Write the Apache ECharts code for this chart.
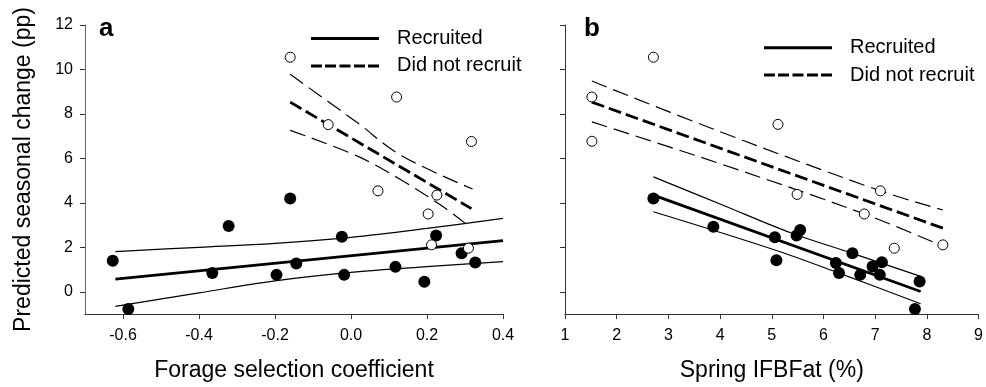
<!DOCTYPE html>
<html><head><meta charset="utf-8">
<script src="https://cdn.jsdelivr.net/npm/echarts@6/dist/echarts.min.js"></script>
<style>html,body{margin:0;padding:0;background:#fff}#c{width:986px;height:387px}</style>
</head><body><div id="c"></div>
<script>
// ---------- tick labels ----------
const yTicks = [0, 2, 4, 6, 8, 10, 12];
const aXTicks = [-0.6, -0.4, -0.2, 0.0, 0.2, 0.4];
const bXTicks = [1, 2, 3, 4, 5, 6, 7, 8, 9];

// ---------- panel a : Forage selection coefficient ----------
const aRecX = [-0.627, -0.586, -0.365, -0.322, -0.160, -0.196, -0.144, -0.024, -0.018, 0.117, 0.224, 0.291, 0.327, 0.193];
const aRecY = [1.40, -0.78, 0.84, 2.96, 4.20, 0.76, 1.27, 2.47, 0.76, 1.12, 2.53, 1.73, 1.32, 0.45];
const aNotX = [-0.160, 0.120, -0.060, 0.071, 0.317, 0.226, 0.203, 0.212, 0.309];
const aNotY = [10.55, 8.76, 7.52, 4.54, 6.76, 4.35, 3.50, 2.11, 1.96];

const aRecFitX = [-0.62, 0.40];
const aRecFitY = [0.57, 2.30];
const aRecUpX = [-0.62, -0.4, -0.2, 0.0, 0.2, 0.4];
const aRecUpY = [1.81, 2.00, 2.18, 2.45, 2.85, 3.30];
const aRecLoX = [-0.62, -0.4, -0.2, 0.0, 0.2, 0.4];
const aRecLoY = [-0.66, -0.05, 0.49, 0.87, 1.13, 1.36];

const aNotFitX = [-0.16, 0.317];
const aNotFitY = [8.53, 3.74];
const aNotUpX = [-0.16, 0.017, 0.13, 0.32];
const aNotUpY = [9.78, 7.60, 6.15, 4.62];
const aNotLoX = [-0.16, 0.017, 0.13, 0.236, 0.317];
const aNotLoY = [7.26, 6.10, 5.05, 3.90, 2.86];

// ---------- panel b : Spring IFBFat (%) ----------
const bRecX = [2.71, 3.87, 5.06, 5.09, 5.55, 5.48, 6.56, 6.24, 6.30, 6.71, 6.95, 7.13, 7.09, 7.86, 7.77];
const bRecY = [4.20, 2.93, 2.45, 1.42, 2.78, 2.53, 1.73, 1.29, 0.84, 0.76, 1.14, 1.33, 0.76, 0.46, -0.78];
const bNotX = [2.71, 1.52, 1.52, 5.12, 5.49, 7.10, 6.79, 7.37, 8.31];
const bNotY = [10.55, 8.76, 6.77, 7.53, 4.38, 4.54, 3.50, 1.96, 2.11];

const bRecFitX = [2.71, 7.88];
const bRecFitY = [4.35, 0.01];
const bRecUpX = [2.71, 4.0, 5.39, 6.56, 7.88];
const bRecUpY = [5.17, 3.95, 2.63, 1.73, 0.69];
const bRecLoX = [2.71, 5.06, 6.30, 7.88];
const bRecLoY = [3.60, 1.88, 0.84, -0.54];

const bNotFitX = [1.52, 8.31];
const bNotFitY = [8.53, 2.86];
const bNotUpX = [1.52, 4.0, 7.10, 8.31];
const bNotUpY = [9.48, 7.20, 4.54, 3.68];
const bNotLoX = [1.52, 4.0, 6.79, 8.31];
const bNotLoY = [7.64, 5.76, 3.50, 2.05];

// ---------- build ----------
const pair = (xs, ys) => xs.map((x, i) => [x, ys[i]]);
const FONT = "'Liberation Sans', Arial, Helvetica, sans-serif";
const solidIcon = 'path://M0,0H68V3H0Z';
const dashIcon = 'path://M0,0H11V3H0ZM14,0H25V3H14ZM28.5,0H39.5V3H28.5ZM43,0H54V3H43ZM57,0H68V3H57Z';

function filled(name, idx, xs, ys) {
  return { type: 'scatter', name: name, xAxisIndex: idx, yAxisIndex: idx, data: pair(xs, ys),
    symbol: 'circle', symbolSize: 12, z: 5, silent: true,
    itemStyle: { color: '#000', borderColor: '#000', borderWidth: 0, opacity: 1 } };
}
function open(name, idx, xs, ys) {
  return { type: 'scatter', name: name, xAxisIndex: idx, yAxisIndex: idx, data: pair(xs, ys),
    symbol: 'circle', symbolSize: 10, z: 6, silent: true,
    itemStyle: { color: '#fff', borderColor: '#000', borderWidth: 1, opacity: 1 } };
}
function line(name, idx, xs, ys, width, type, smooth) {
  return { type: 'line', name: name, xAxisIndex: idx, yAxisIndex: idx, data: pair(xs, ys),
    showSymbol: false, symbol: 'none', smooth: smooth ? 0.35 : false, z: 3, silent: true,
    itemStyle: { color: '#000' },
    lineStyle: { color: '#000', width: width, type: type, cap: 'butt' } };
}
const THIN_DASH = [16, 7];
const BOLD_DASH = [13, 5];

function xAxisCfg(idx, name, min, max, ticks, fmt) {
  return {
    type: 'value', gridIndex: idx, min: min, max: max,
    name: name, nameLocation: 'middle', nameGap: 45,
    nameTextStyle: { fontSize: 23, color: '#000', fontFamily: FONT },
    splitLine: { show: false },
    axisLine: { show: true, onZero: false, lineStyle: { color: '#333', width: 1 } },
    axisTick: { show: true, length: 5, lineStyle: { color: '#333' }, customValues: ticks },
    axisLabel: { fontSize: 16, color: '#000', margin: 14, fontFamily: FONT, customValues: ticks, formatter: fmt }
  };
}
function yAxisCfg(idx, name, showLabels) {
  return {
    type: 'value', gridIndex: idx, min: -1, max: 12, splitNumber: 6,
    name: name, nameLocation: 'middle', nameGap: 50,
    nameTextStyle: { fontSize: 23, color: '#000', fontFamily: FONT },
    splitLine: { show: false },
    axisLine: { show: true, onZero: false, lineStyle: { color: idx === 0 ? '#666' : '#333', width: 1 } },
    axisTick: { show: true, length: 5, lineStyle: { color: '#333' }, customValues: yTicks },
    axisLabel: { show: showLabels, fontSize: 16, color: '#000', margin: 12, fontFamily: FONT, customValues: yTicks,
      formatter: v => (yTicks.indexOf(v) >= 0 ? String(v) : '') }
  };
}

const legendCommon = {
  orient: 'vertical', itemWidth: 68, itemHeight: 3, itemGap: 5.4, padding: 0,
  selectedMode: false,
  data: [{ name: 'Recruited', icon: solidIcon }, { name: 'Did not recruit', icon: dashIcon }],
  textStyle: { fontSize: 20, lineHeight: 22, color: '#000', fontFamily: FONT, padding: [0, 0, 0, 13] }
};

const option = {
  animation: false,
  backgroundColor: '#fff',
  textStyle: { fontFamily: FONT },
  title: [
    { text: 'a', left: 99, top: 16, padding: 0, textStyle: { fontSize: 26, fontWeight: 'bold', color: '#000', fontFamily: FONT } },
    { text: 'b', left: 584, top: 16, padding: 0, textStyle: { fontSize: 26, fontWeight: 'bold', color: '#000', fontFamily: FONT } }
  ],
  legend: [
    Object.assign({}, legendCommon, { left: 311, top: 27.5 }),
    Object.assign({}, legendCommon, { left: 764, top: 36.7 })
  ],
  grid: [
    { left: 85, top: 25, width: 418, height: 289, containLabel: false },
    { left: 565, top: 25, width: 417.5, height: 289, containLabel: false }
  ],
  xAxis: [
    xAxisCfg(0, 'Forage selection coefficient', -0.7, 0.4, aXTicks,
      v => (Math.abs(v * 5 - Math.round(v * 5)) < 1e-6 ? v.toFixed(1) : '')),
    xAxisCfg(1, 'Spring IFBFat (%)', 1, 9, bXTicks, v => String(v))
  ],
  yAxis: [
    yAxisCfg(0, 'Predicted seasonal change (pp)', true),
    yAxisCfg(1, '', false)
  ],
  series: [
    line('Recruited', 0, aRecFitX, aRecFitY, 2.8, 'solid', false),
    line('Recruited CI upper a', 0, aRecUpX, aRecUpY, 1.2, 'solid', true),
    line('Recruited CI lower a', 0, aRecLoX, aRecLoY, 1.2, 'solid', true),
    line('Did not recruit', 0, aNotFitX, aNotFitY, 2.8, BOLD_DASH, false),
    line('Did not recruit CI upper a', 0, aNotUpX, aNotUpY, 1.2, THIN_DASH, true),
    line('Did not recruit CI lower a', 0, aNotLoX, aNotLoY, 1.2, THIN_DASH, true),
    filled('Recruited birds a', 0, aRecX, aRecY),
    open('Non-recruited birds a', 0, aNotX, aNotY),

    line('Recruited', 1, bRecFitX, bRecFitY, 2.8, 'solid', false),
    line('Recruited CI upper b', 1, bRecUpX, bRecUpY, 1.2, 'solid', true),
    line('Recruited CI lower b', 1, bRecLoX, bRecLoY, 1.2, 'solid', true),
    line('Did not recruit', 1, bNotFitX, bNotFitY, 2.8, BOLD_DASH, false),
    line('Did not recruit CI upper b', 1, bNotUpX, bNotUpY, 1.2, THIN_DASH, true),
    line('Did not recruit CI lower b', 1, bNotLoX, bNotLoY, 1.2, THIN_DASH, true),
    filled('Recruited birds b', 1, bRecX, bRecY),
    open('Non-recruited birds b', 1, bNotX, bNotY)
  ]
};
const chart = echarts.init(document.getElementById('c'), null, { renderer: 'canvas' });
chart.setOption(option);
</script>
</body></html>
